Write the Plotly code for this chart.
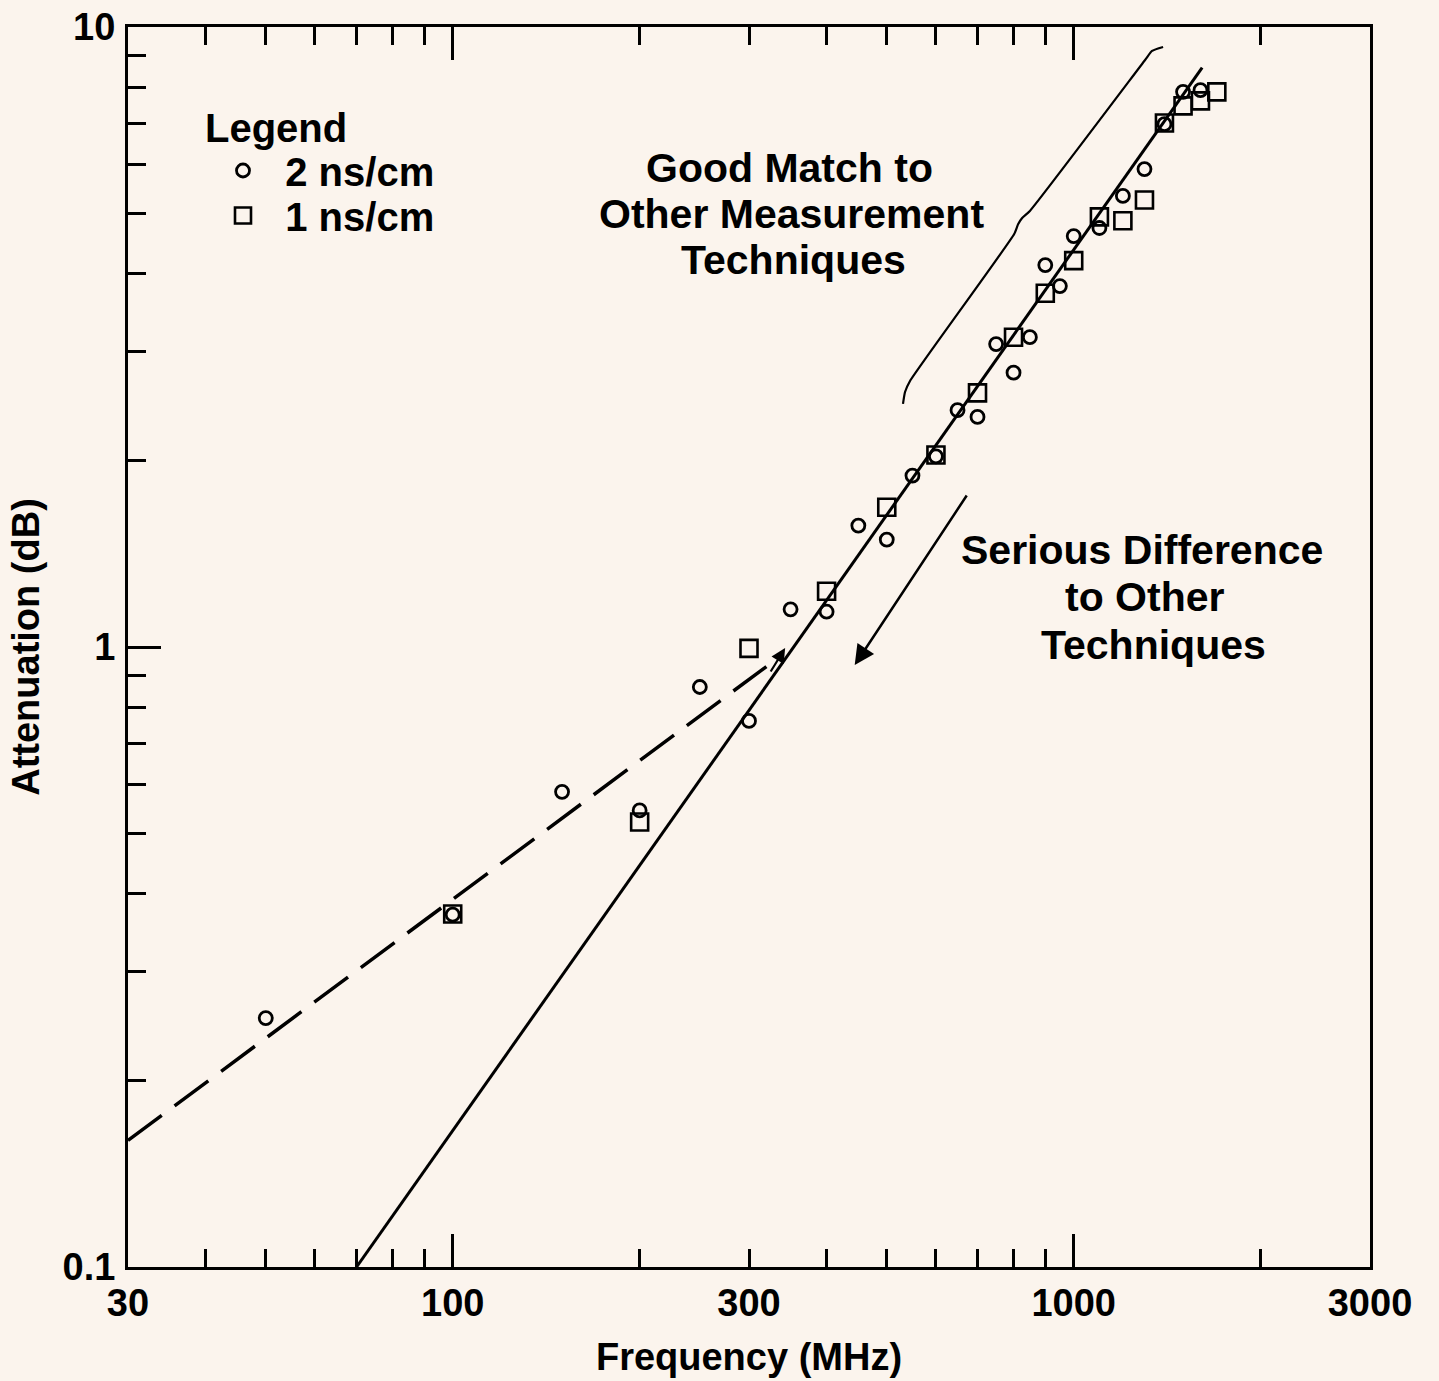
import numpy as np
import plotly.graph_objects as go

# ---- data ----
freq_2ns = [50, 100, 150, 200, 250, 300, 350, 400, 450, 500, 550, 600, 650, 700,
            750, 800, 850, 900, 950, 1000, 1100, 1200, 1300, 1400, 1500, 1600]
att_2ns = [0.252, 0.37, 0.584, 0.545, 0.862, 0.760, 1.15, 1.14, 1.57, 1.49, 1.89,
           2.03, 2.41, 2.35, 3.08, 2.77, 3.16, 4.13, 3.82, 4.60, 4.74, 5.34, 5.90,
           6.97, 7.86, 7.91]

freq_1ns = [100, 200, 300, 400, 500, 600, 700, 800, 900, 1000, 1100, 1200, 1300,
            1400, 1500, 1600, 1700]
att_1ns = [0.371, 0.522, 0.995, 1.23, 1.68, 2.04, 2.57, 3.16, 3.72, 4.20, 4.94,
           4.87, 5.26, 7.00, 7.46, 7.60, 7.86]

solid_fit_freq = [70, 1610]
solid_fit_att = [0.1, 8.6]

dashed_fit_freq = [30, 320]
dashed_fit_att = [0.16, 0.93]

bracket_freq = [531, 535, 545, 802, 814, 826, 850, 1303, 1337, 1393]
bracket_att = [2.466, 2.578, 2.686, 4.636, 4.812, 4.920, 5.050, 8.847, 9.149, 9.285]

x_ticklabels = [30, 100, 300, 1000, 3000]
x_major_ticks = [100, 1000]
x_minor_ticks = [40, 50, 60, 70, 80, 90, 200, 300, 400, 500, 600, 700, 800, 900, 2000]
y_ticklabels = [0.1, 1, 10]
y_minor_ticks = [0.2, 0.3, 0.4, 0.5, 0.6, 0.7, 0.8, 0.9, 2, 3, 4, 5, 6, 7, 8, 9]

BG = "#fbf4ed"
FONT = "Liberation Sans, Arial, Helvetica, sans-serif"

fig = go.Figure()

fig.add_trace(go.Scatter(
    x=dashed_fit_freq, y=dashed_fit_att, mode="lines",
    line=dict(color="black", width=3.5, dash="42px,16px"),
    showlegend=False, hoverinfo="skip"))
fig.add_trace(go.Scatter(
    x=solid_fit_freq, y=solid_fit_att, mode="lines",
    line=dict(color="black", width=3),
    showlegend=False, hoverinfo="skip"))
fig.add_trace(go.Scatter(
    x=bracket_freq, y=bracket_att, mode="lines", xaxis="x2",
    line=dict(color="black", width=2.2, shape="spline", smoothing=0.5),
    showlegend=False, hoverinfo="skip"))
fig.add_trace(go.Scatter(
    x=freq_2ns, y=att_2ns, mode="markers", name="\u00a0\u00a02 ns/cm",
    legend="legend",
    marker=dict(symbol="circle-open", size=13, color="black", line=dict(width=2.8))))
fig.add_trace(go.Scatter(
    x=freq_1ns, y=att_1ns, mode="markers", name="\u00a0\u00a01 ns/cm",
    legend="legend2",
    marker=dict(symbol="square-open", size=17, color="black", line=dict(width=2.6))))

xr = [np.log10(30), np.log10(3000)]

def px_to_paper(px, py):
    return (px - 128) / 1242, (1267 - py) / 1240

leg1_x, leg1_y = px_to_paper(223, 138)
leg2_x, leg2_y = px_to_paper(223, 183)

fig.update_layout(
    width=1439, height=1381,
    margin=dict(l=128, r=69, t=27, b=114),
    paper_bgcolor=BG, plot_bgcolor=BG,
    font=dict(family=FONT, size=38, color="black", weight="bold"),
    xaxis=dict(
        type="log", range=xr, automargin=False,
        tickvals=x_ticklabels, ticktext=[str(v) for v in x_ticklabels],
        ticks="", showline=True, linecolor="black", linewidth=3, mirror=True,
        showgrid=False, zeroline=False, ticklabelstandoff=0,
        title=dict(text="Frequency (MHz)", standoff=21, font=dict(size=38)),
    ),
    xaxis2=dict(
        type="log", range=xr, overlaying="x", anchor="y", side="bottom",
        automargin=False,
        tickvals=x_major_ticks, ticks="inside", ticklen=33, tickwidth=2.5,
        tickcolor="black", showticklabels=False, showgrid=False,
        showline=False, mirror="ticks", zeroline=False,
        minor=dict(tickvals=x_minor_ticks, ticks="inside", ticklen=18,
                   tickwidth=2.5, tickcolor="black", showgrid=False),
    ),
    yaxis=dict(
        type="log", range=[-1, 1], automargin=False,
        tickvals=y_ticklabels, ticktext=["0.1", "1", "10"],
        ticks="inside", ticklen=33, tickwidth=2.5, tickcolor="black",
        showline=True, linecolor="black", linewidth=3, mirror=True,
        showgrid=False, zeroline=False, ticklabelstandoff=2,
        minor=dict(tickvals=y_minor_ticks, ticks="inside", ticklen=18,
                   tickwidth=2.5, tickcolor="black", showgrid=False),
        title=dict(text="Attenuation (dB)", standoff=12, font=dict(size=38)),
    ),
    legend=dict(
        x=leg1_x, xanchor="left", y=leg1_y, yanchor="top",
        bgcolor="rgba(0,0,0,0)", font=dict(size=40),
    ),
    legend2=dict(
        x=leg2_x, xanchor="left", y=leg2_y, yanchor="top",
        bgcolor="rgba(0,0,0,0)", font=dict(size=40),
    ),
)

texts = [
    ("Good Match to", 789, 168),
    ("Other Measurement", 791, 214),
    ("Techniques", 793, 260),
    ("Serious Difference", 1142, 550),
    ("to Other", 1144, 597),
    ("Techniques", 1153, 645),
]
for t, px, py in texts:
    xp, yp = px_to_paper(px, py)
    fig.add_annotation(text=t, x=xp, y=yp, xref="paper", yref="paper",
                       xanchor="center", yanchor="middle", showarrow=False,
                       font=dict(size=41))

lx, ly = px_to_paper(203, 128)
fig.add_annotation(text="Legend", x=lx, y=ly, xref="paper", yref="paper",
                   xanchor="left", yanchor="middle", showarrow=False,
                   font=dict(size=40))

# big arrow
fig.add_annotation(x=np.log10(444), y=np.log10(0.935),
                   ax=np.log10(675), ay=np.log10(1.765),
                   xref="x", yref="y", axref="x", ayref="y",
                   text="", showarrow=True, arrowhead=2, arrowsize=1.6,
                   arrowwidth=2.5, arrowcolor="black")
# small arrow at the junction
fig.add_annotation(x=np.log10(343), y=np.log10(0.996),
                   ax=np.log10(324), ay=np.log10(0.908),
                   xref="x", yref="y", axref="x", ayref="y",
                   text="", showarrow=True, arrowhead=2, arrowsize=1.3,
                   arrowwidth=2.2, arrowcolor="black")

fig.write_html("out.html")
